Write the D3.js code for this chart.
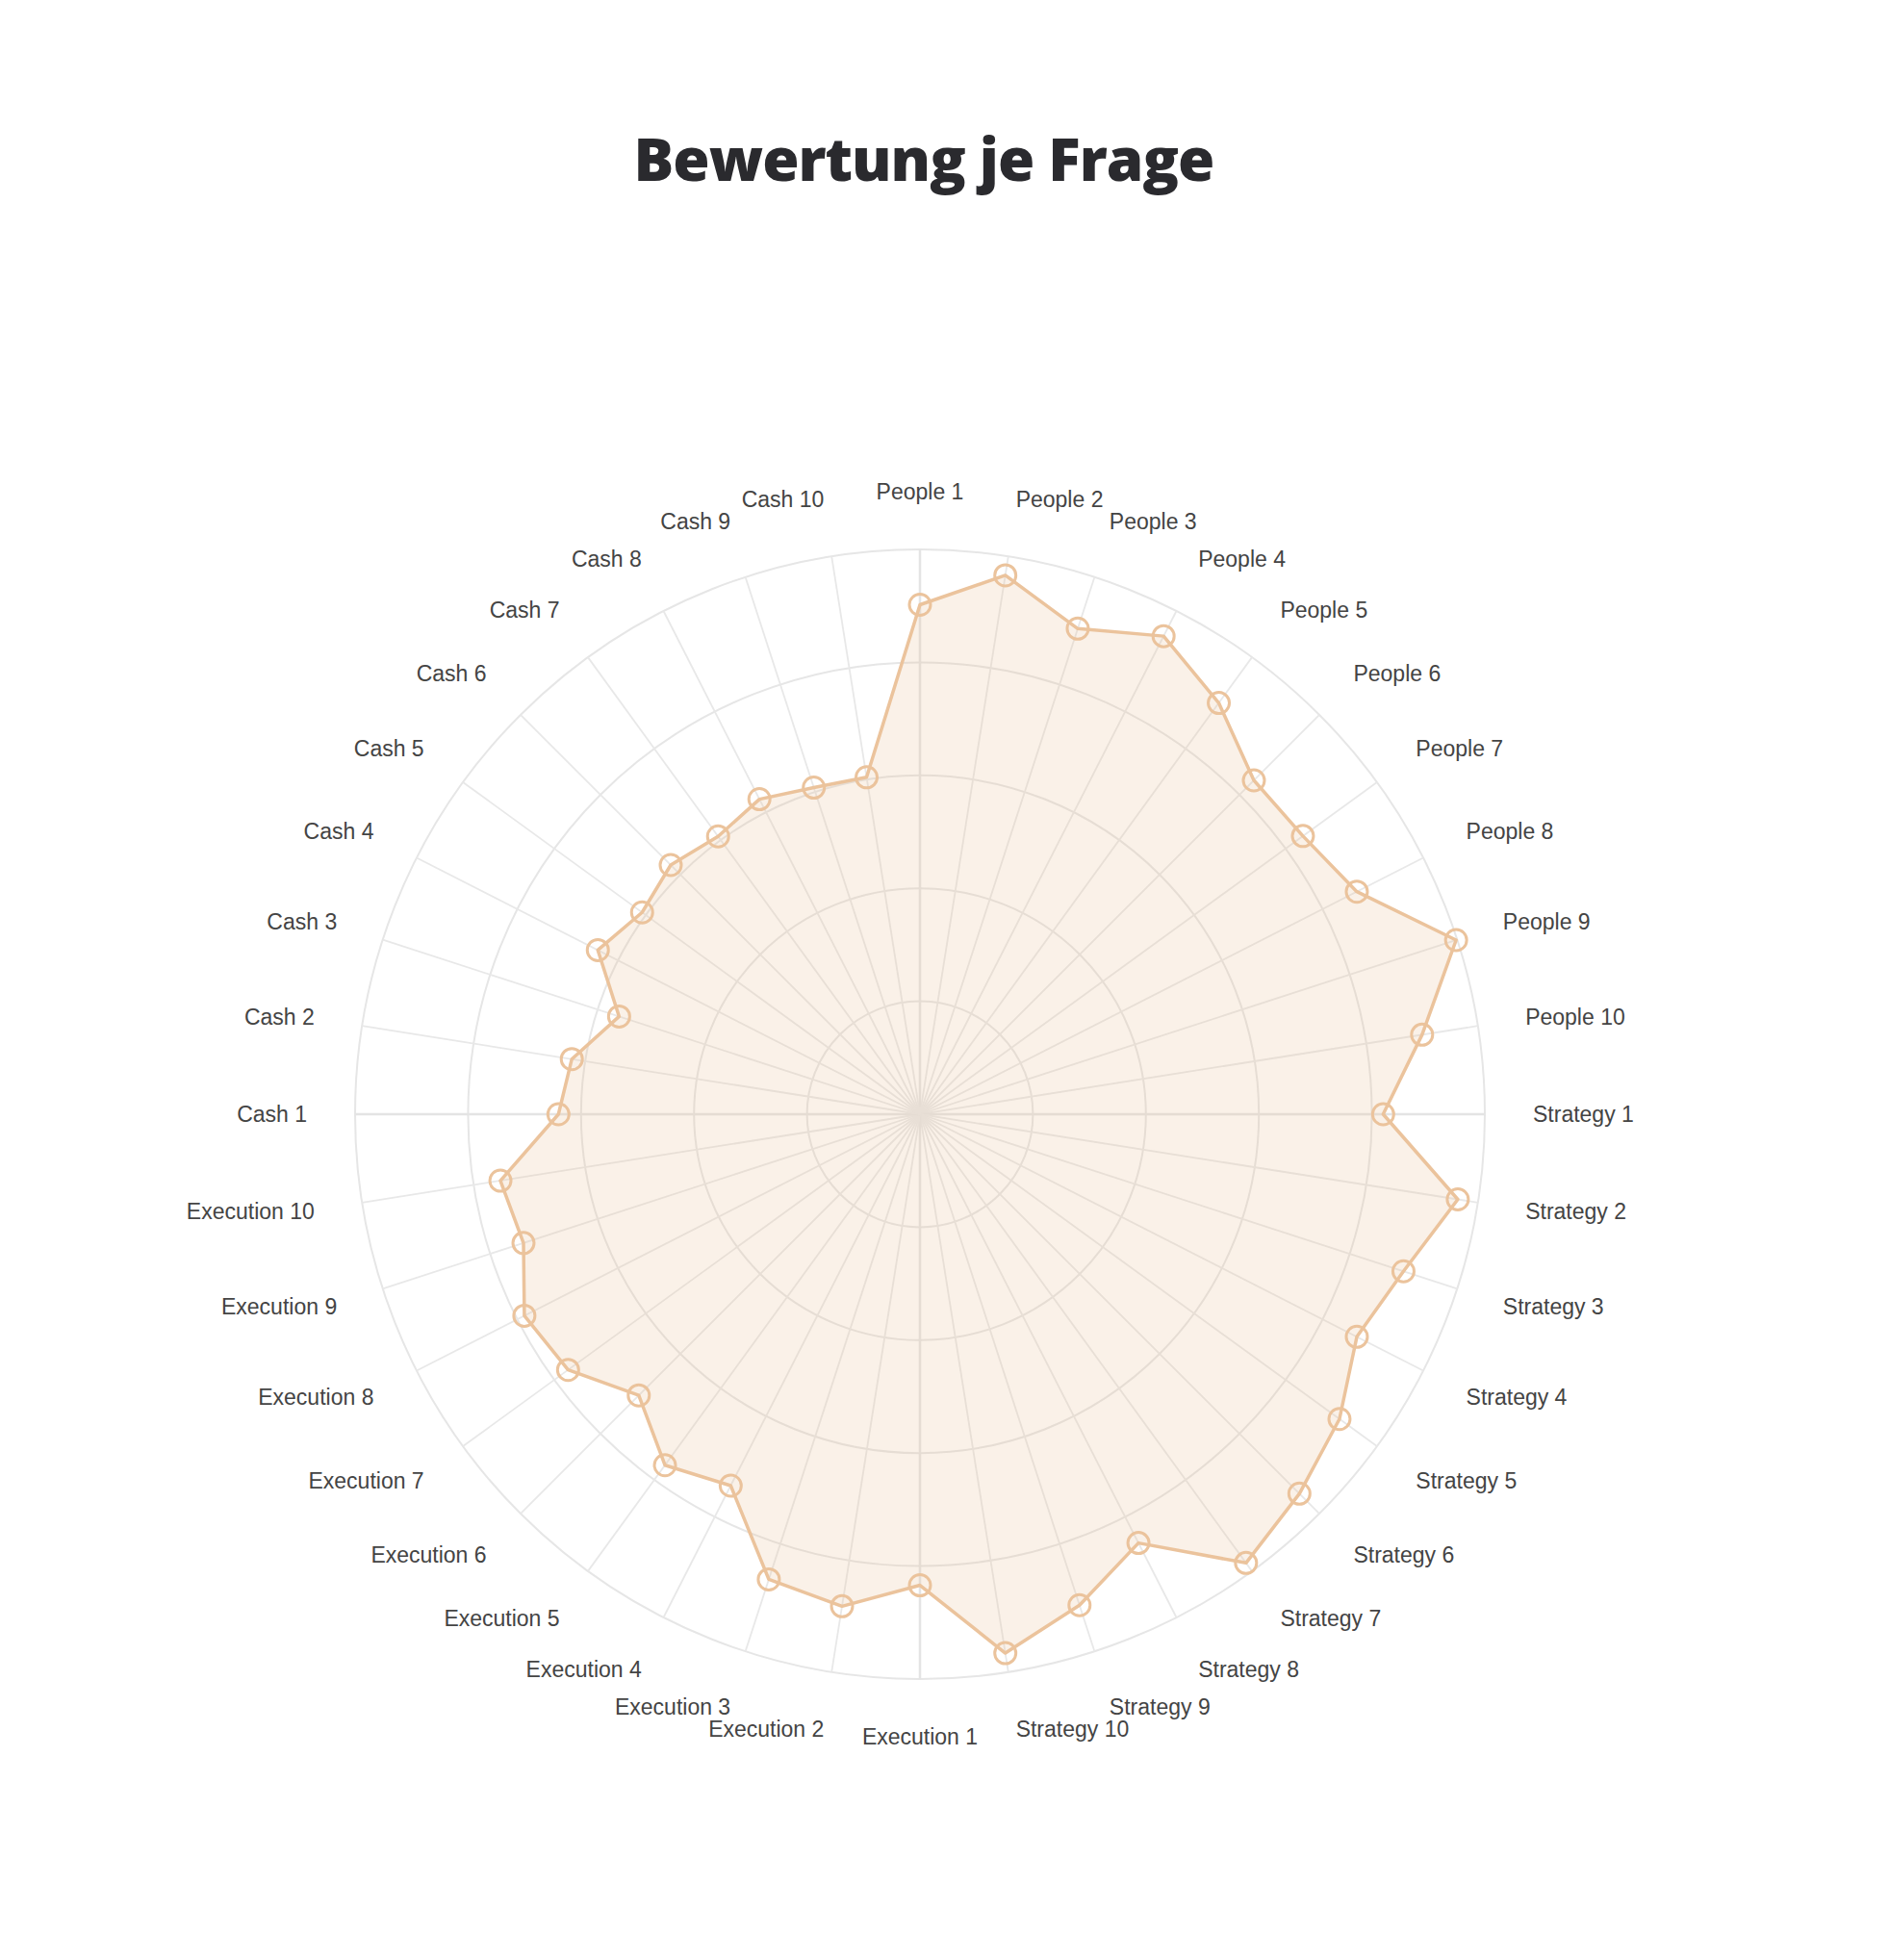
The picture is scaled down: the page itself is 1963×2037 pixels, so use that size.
<!DOCTYPE html>
<html><head><meta charset="utf-8">
<script src="https://cdn.jsdelivr.net/npm/d3@7"></script>
<style>body{margin:0;background:#fff;}</style>
</head><body>
<div class="canvas"></div>
<script>
// data
const groups = ['People', 'Strategy', 'Execution', 'Cash'];
const categories = groups.flatMap(g => d3.range(1, 11).map(i => `${g} ${i}`));
const peopleValues = [4.51, 4.83, 4.52, 4.75, 4.5, 4.18, 4.19, 4.34, 4.99, 4.5];
const strategyValues = [4.1, 4.82, 4.5, 4.34, 4.59, 4.75, 4.91, 4.26, 4.57, 4.83];
const executionValues = [4.17, 4.41, 4.33, 3.69, 3.84, 3.52, 3.85, 3.93, 3.69, 3.76];
const cashValues = [3.2, 3.12, 2.8, 3.2, 3.04, 3.12, 3.04, 3.13, 3.04, 3.02];
const values = [...peopleValues, ...strategyValues, ...executionValues, ...cashValues];
const ringTicks = [1, 2, 3, 4, 5];

const width = 1963, height = 2037;
const cx = 956, cy = 1158, radius = 587;

const svg = d3.select('.canvas').append('svg')
    .attr('width', width)
    .attr('height', height);

svg.append('text')
    .attr('x', 960).attr('y', 188)
    .attr('text-anchor', 'middle')
    .attr('font-family', 'Open Sans')
    .attr('font-weight', 800)
    .attr('font-size', 62)
    .attr('fill', '#2a2a2e')
    .attr('letter-spacing', -1)
    .text('Bewertung je Frage');

const graph = svg.append('g').attr('transform', `translate(${cx}, ${cy})`);

// scales
const r = d3.scaleLinear().domain([0, 5]).range([0, radius]);
const angle = d3.scaleBand().domain(categories).range([0, 2 * Math.PI]).align(0);
const a = d => angle(d);
const px = (c, v) => r(v) * Math.sin(a(c));
const py = (c, v) => -r(v) * Math.cos(a(c));

// grid rings
graph.selectAll('circle.ring').data(ringTicks).enter().append('circle')
    .attr('r', d => r(d))
    .attr('fill', 'none')
    .attr('stroke', '#e6e6e6')
    .attr('stroke-width', 2);

// spokes
graph.selectAll('line.spoke').data(categories).enter().append('line')
    .attr('x1', 0).attr('y1', 0)
    .attr('x2', d => px(d, 5)).attr('y2', d => py(d, 5))
    .attr('stroke', (d, i) => i % 10 === 0 ? '#e4e4e4' : '#e8e8e8')
    .attr('stroke-width', (d, i) => i % 10 === 0 ? 2.5 : 1.8);

// area
const line = d3.lineRadial()
    .angle((d, i) => a(categories[i]))
    .radius(d => r(d))
    .curve(d3.curveLinearClosed);

graph.append('path')
    .attr('d', line(values))
    .attr('fill', 'rgba(232,190,150,0.22)')
    .attr('stroke', '#ebc39c')
    .attr('stroke-width', 3.5)
    .attr('stroke-linejoin', 'round');

// markers
graph.selectAll('circle.pt').data(values).enter().append('circle')
    .attr('cx', (d, i) => px(categories[i], d))
    .attr('cy', (d, i) => py(categories[i], d))
    .attr('r', 11)
    .attr('fill', 'none')
    .attr('stroke', '#ebc39c')
    .attr('stroke-width', 3);

// labels
const labelR = radius + 50;
graph.selectAll('text.lbl').data(categories).enter().append('text')
    .attr('x', d => labelR * Math.sin(a(d)))
    .attr('y', d => -labelR * Math.cos(a(d)))
    .attr('dy', d => (0.35 - 0.45 * Math.cos(a(d))) + 'em')
    .attr('text-anchor', d => {
        const s = Math.sin(a(d));
        return s > 0.01 ? 'start' : s < -0.01 ? 'end' : 'middle';
    })
    .attr('font-family', 'Liberation Sans, Arial, sans-serif')
    .attr('font-size', 23)
    .attr('fill', '#444')
    .text(d => d);
</script>
</body></html>
